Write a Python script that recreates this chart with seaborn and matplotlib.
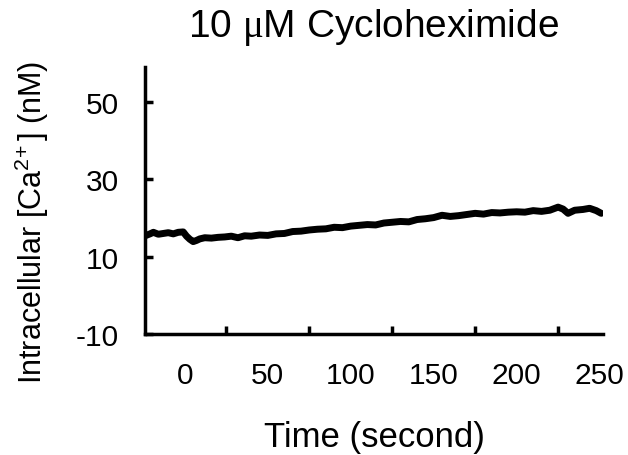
import matplotlib
matplotlib.use("Agg")
import matplotlib.pyplot as plt
import seaborn as sns
import pandas as pd

# trace (time in s, calcium in nM)
time_s = [-24, -21, -19, -16, -13, -10, -7, -4, -1, 1, 3, 5, 7, 9, 12, 16, 20,
          24, 28, 32, 36, 40, 45, 50, 55, 60, 65, 70, 75, 80, 85, 90, 95,
          100, 105, 110, 115, 120, 125, 130, 135, 140, 145, 150, 155, 160,
          165, 170, 175, 180, 185, 190, 195, 200, 205, 210, 215, 220, 225,
          228, 231, 235, 240, 244, 248, 251]
calcium = [15.4, 15.9, 16.3, 15.8, 16.0, 16.2, 15.9, 16.3, 16.4, 15.3, 14.5,
           13.9, 14.2, 14.6, 14.9, 14.8, 15.0, 15.1, 15.3, 14.9, 15.4, 15.3,
           15.6, 15.5, 15.9, 16.0, 16.5, 16.6, 16.9, 17.1, 17.2, 17.6, 17.5,
           17.9, 18.1, 18.3, 18.2, 18.7, 18.9, 19.1, 19.0, 19.6, 19.8, 20.1,
           20.7, 20.4, 20.6, 20.9, 21.2, 21.0, 21.4, 21.3, 21.5, 21.6, 21.5,
           21.9, 21.7, 22.0, 22.8, 22.3, 21.2, 22.0, 22.2, 22.5, 21.9, 21.2]

x_labels = [0, 50, 100, 150, 200, 250]
x_minor = [25, 75, 125, 175, 225]
y_ticks = [-10, 10, 30, 50]

df = pd.DataFrame({"time": time_s, "ca": calcium})

sns.set_style("ticks")
plt.rcParams["font.family"] = ["Liberation Sans", "DejaVu Sans"]
plt.rcParams["mathtext.fontset"] = "custom"
plt.rcParams["mathtext.rm"] = "Liberation Sans"
plt.rcParams["mathtext.it"] = "Liberation Sans"
plt.rcParams["mathtext.sf"] = "Liberation Serif"
plt.rcParams["axes.unicode_minus"] = False
plt.rcParams["text.color"] = "black"
plt.rcParams["xtick.color"] = "black"
plt.rcParams["ytick.color"] = "black"
plt.rcParams["axes.labelcolor"] = "black"
plt.rcParams["axes.edgecolor"] = "black"

fig = plt.figure(figsize=(6.28, 4.56), dpi=100)
ax = fig.add_axes([0.231, 0.265, 0.729, 0.586])

sns.lineplot(data=df, x="time", y="ca", color="black", linewidth=5, ax=ax)

ax.set_xlim(-24, 252)
ax.set_ylim(-10, 59)
ax.set_xticks(x_labels)
ax.set_xticks(x_minor, minor=True)
ax.set_yticks(y_ticks)
ax.tick_params(axis="x", which="major", length=0, pad=19, labelsize=21.5)
ax.tick_params(axis="x", which="minor", direction="in", length=6, width=2.5)
ax.tick_params(axis="y", which="major", direction="in", length=6, width=2.5,
               pad=19, labelsize=21.5)
for side in ["top", "right"]:
    ax.spines[side].set_visible(False)
for side in ["left", "bottom"]:
    ax.spines[side].set_linewidth(2.5)

ax.set_xlabel("Time (second)", fontsize=25, labelpad=23)
ax.set_ylabel(r"Intracellular [Ca$^{2\!+}$] (nM)", fontsize=22)
ax.yaxis.set_label_coords(-0.205, 0.42)
ax.set_title(r"10 $\mathsf{\mu}$M Cycloheximide", fontsize=28, pad=22)

fig.savefig("out.png", dpi=100)
